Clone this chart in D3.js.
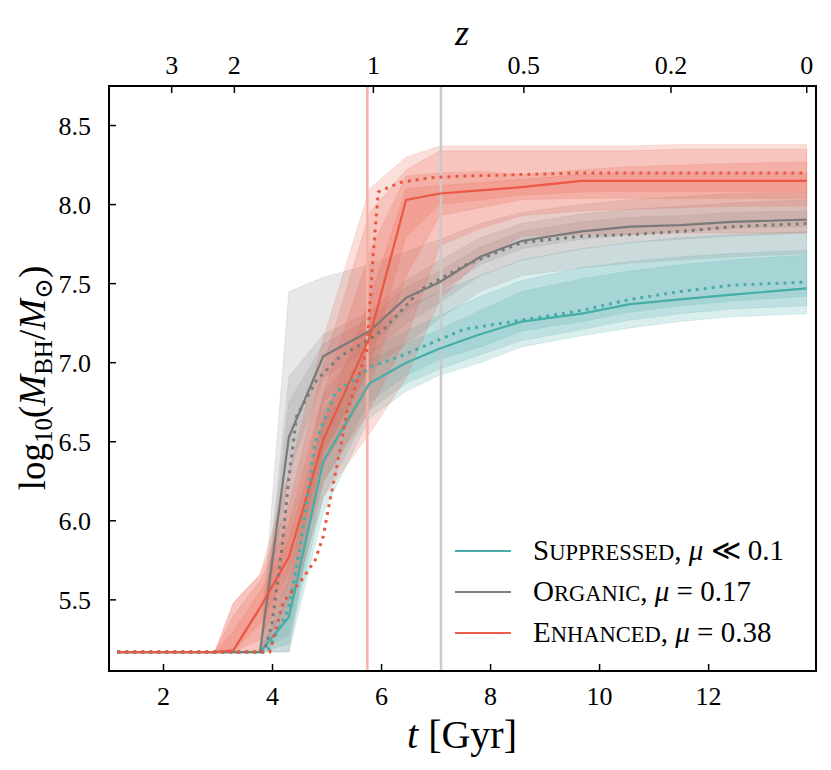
<!DOCTYPE html>
<html><head><meta charset="utf-8">
<script src="https://cdn.jsdelivr.net/npm/d3@7"></script>
<style>body{margin:0;background:#fff}</style>
</head><body><svg id="c" width="831" height="770"></svg>
<script>
// ---- data ----
const tGrid = [1.15, 2.0, 2.94, 3.28, 3.77, 4.3, 4.93, 5.78, 6.45, 7.07, 7.81, 8.57, 9.67, 10.56, 11.48, 12.43, 13.8];

const suppMed   = [5.17,5.17,5.17,5.17,5.17,5.39,6.375,6.87,7.0,7.09,7.18,7.26,7.31,7.37,7.40,7.43,7.47];
const suppInLo  = [5.17,5.17,5.17,5.17,5.17,5.28,6.24,6.75,6.92,7.02,7.10,7.20,7.26,7.32,7.36,7.39,7.42];
const suppInHi  = [5.17,5.17,5.17,5.17,5.17,5.52,6.62,7.02,7.12,7.21,7.33,7.45,7.53,7.58,7.62,7.65,7.68];
const suppMidLo = [5.17,5.17,5.17,5.17,5.17,5.22,6.15,6.70,6.87,6.96,7.05,7.14,7.21,7.27,7.31,7.34,7.36];
const suppMidHi = [5.17,5.17,5.17,5.17,5.17,5.62,6.70,7.08,7.20,7.30,7.42,7.52,7.60,7.64,7.67,7.69,7.71];
const suppOutLo = [5.17,5.17,5.17,5.17,5.17,5.17,6.05,6.65,6.82,6.92,7.00,7.10,7.17,7.22,7.26,7.29,7.31];
const suppOutHi = [5.17,5.17,5.17,5.17,5.17,5.75,6.80,7.20,7.35,7.45,7.55,7.65,7.72,7.76,7.79,7.81,7.83];

const orgMed   = [5.17,5.17,5.17,5.17,5.17,6.53,7.04,7.20,7.41,7.51,7.67,7.77,7.83,7.86,7.87,7.89,7.905];
const orgInLo  = [5.17,5.17,5.17,5.17,5.17,6.30,6.90,7.10,7.33,7.45,7.62,7.72,7.78,7.81,7.83,7.85,7.86];
const orgInHi  = [5.17,5.17,5.17,5.17,5.17,6.75,7.12,7.28,7.48,7.58,7.73,7.83,7.89,7.92,7.93,7.95,7.96];
const orgMidLo = [5.17,5.17,5.17,5.17,5.17,5.82,6.75,7.05,7.25,7.38,7.55,7.65,7.72,7.76,7.78,7.80,7.82];
const orgMidHi = [5.17,5.17,5.17,5.17,5.17,6.91,7.18,7.32,7.52,7.65,7.79,7.88,7.94,7.97,7.99,8.01,8.03];
const orgOutLo = [5.17,5.17,5.17,5.17,5.17,5.17,6.45,6.95,7.12,7.28,7.45,7.55,7.60,7.63,7.65,7.67,7.69];
const orgOutHi = [5.17,5.17,5.17,5.17,5.17,7.45,7.54,7.62,7.70,7.78,7.88,7.95,8.00,8.03,8.05,8.07,8.08];

const enhMed   = [5.17,5.17,5.17,5.18,5.45,5.77,6.51,7.16,8.03,8.07,8.09,8.11,8.15,8.15,8.15,8.15,8.15];
const enhInLo  = [5.17,5.17,5.17,5.17,5.35,5.68,6.42,6.98,7.80,8.00,8.03,8.06,8.08,8.085,8.085,8.085,8.085];
const enhInHi  = [5.17,5.17,5.17,5.30,5.55,5.88,6.62,7.40,8.10,8.12,8.14,8.16,8.19,8.20,8.20,8.20,8.20];
const enhMidLo = [5.17,5.17,5.17,5.17,5.25,5.60,6.35,6.85,7.55,7.93,7.98,8.03,8.04,8.04,8.04,8.04,8.04];
const enhMidHi = [5.17,5.17,5.17,5.40,5.62,5.98,6.80,7.70,8.18,8.20,8.21,8.19,8.22,8.24,8.25,8.26,8.27];
const enhOutLo = [5.17,5.17,5.17,5.17,5.17,5.50,6.25,6.70,7.15,7.74,7.85,7.93,7.96,7.97,7.98,7.99,7.99];
const enhOutHi = [5.17,5.17,5.17,5.48,5.66,6.10,6.98,7.95,8.22,8.34,8.34,8.34,8.34,8.34,8.35,8.35,8.35];
const enhFarLo = [5.17,5.17,5.17,5.17,5.17,5.40,6.15,6.55,6.90,7.40,7.65,7.80,7.81,7.81,7.82,7.82,7.82];
const enhFarHi = [5.17,5.17,5.17,5.48,5.66,6.30,7.15,8.10,8.30,8.37,8.37,8.37,8.37,8.37,8.38,8.38,8.38];

const suppDotT = [1.15, 3.9, 4.29, 4.5, 4.78, 5.15, 5.84, 6.34, 7.5, 8.57, 9.67, 10.56, 11.48, 12.43, 13.8];
const suppDotV = [5.17, 5.17, 5.44, 5.82, 6.49, 6.81, 6.98, 7.04, 7.21, 7.27, 7.33, 7.40, 7.45, 7.49, 7.51];
const orgDotT  = [1.15, 3.85, 3.99, 4.17, 4.29, 4.44, 4.81, 5.24, 5.79, 6.1, 6.71, 7.07, 7.56, 8.57, 9.67, 10.56, 11.48, 12.43, 13.8];
const orgDotV  = [5.17, 5.17, 5.35, 5.82, 6.24, 6.66, 6.89, 7.04, 7.15, 7.23, 7.46, 7.53, 7.62, 7.76, 7.80, 7.81, 7.83, 7.86, 7.88];
const enhDotT  = [1.15, 3.95, 4.2, 4.5, 4.78, 4.93, 5.02, 5.24, 5.36, 5.73, 5.85, 5.94, 6.34, 6.89, 7.5, 8.57, 9.67, 10.56, 11.48, 12.43, 13.8];
const enhDotV  = [5.17, 5.17, 5.49, 5.61, 5.75, 5.9, 6.07, 6.45, 6.68, 7.08, 7.7, 8.08, 8.14, 8.17, 8.18, 8.19, 8.20, 8.20, 8.20, 8.20, 8.20];

const xTicks = [2, 4, 6, 8, 10, 12];
const yTicks = [5.5, 6.0, 6.5, 7.0, 7.5, 8.0, 8.5];
const zLabels = ["3", "2", "1", "0.5", "0.2", "0"];
const zTimes  = [2.15, 3.30, 5.85, 8.61, 11.31, 13.80];
const vLines = [{t: 5.74, c: "#f5b1a6"}, {t: 7.09, c: "#c9c9c9"}];

const models = [
  {name: ["S", "UPPRESSED"], mu: " \u226A 0.1", col: "#48aca8", line: "#45aea8", fill: "#4aaca8",
   med: suppMed, bands: [[suppOutLo, suppOutHi], [suppMidLo, suppMidHi], [suppInLo, suppInHi]], dt: suppDotT, dv: suppDotV},
  {name: ["O", "RGANIC"], mu: " = 0.17", col: "#7f7f7f", line: "#7a7a7a", fill: "#8a8a8a",
   med: orgMed, bands: [[orgOutLo, orgOutHi], [orgMidLo, orgMidHi], [orgInLo, orgInHi]], dt: orgDotT, dv: orgDotV},
  {name: ["E", "NHANCED"], mu: " = 0.38", col: "#ee5f4b", line: "#ea5843", fill: "#ec5f4a",
   med: enhMed, bands: [[enhFarLo, enhFarHi], [enhOutLo, enhOutHi], [enhMidLo, enhMidHi], [enhInLo, enhInHi]], dt: enhDotT, dv: enhDotV}
];

// ---- layout ----
const L = 109, R = 816, Tp = 86, B = 671;
const x = d3.scaleLinear().domain([1.0, 13.97]).range([L, R]);
const y = d3.scaleLinear().domain([5.05, 8.75]).range([B, Tp]);
const svg = d3.select("#c");
const FONT = "'Liberation Serif', 'DejaVu Serif', serif";

svg.append("defs").append("clipPath").attr("id", "clip")
  .append("rect").attr("x", L).attr("y", Tp).attr("width", R - L).attr("height", B - Tp);
const g = svg.append("g").attr("clip-path", "url(#clip)");

const area = d3.area().x(d => x(d[0])).y0(d => y(d[1])).y1(d => y(d[2]));
const line = d3.line().x(d => x(d[0])).y(d => y(d[1]));

models.forEach(m => {
  m.bands.forEach(([lo, hi]) => {
    g.append("path").datum(tGrid.map((t, i) => [t, lo[i], hi[i]]))
      .attr("d", area).attr("fill", m.fill).attr("fill-opacity", 0.2)
      .attr("stroke", m.fill).attr("stroke-opacity", 0.15).attr("stroke-width", 1);
  });
});

vLines.forEach(v => {
  g.append("line").attr("x1", x(v.t)).attr("x2", x(v.t)).attr("y1", Tp).attr("y2", B)
    .attr("stroke", v.c).attr("stroke-width", 2.5);
});

models.forEach(m => {
  g.append("path").datum(tGrid.map((t, i) => [t, m.med[i]]))
    .attr("d", line).attr("fill", "none").attr("stroke", m.line).attr("stroke-width", 2.2);
});
models.forEach(m => {
  g.append("path").datum(m.dt.map((t, i) => [t, m.dv[i]]))
    .attr("d", line).attr("fill", "none").attr("stroke", m.line).attr("stroke-width", 3)
    .attr("stroke-dasharray", "3,5");
});

// ---- axes ----
const tickLen = 7;
const ax = svg.append("g");
xTicks.forEach(t => {
  ax.append("line").attr("x1", x(t)).attr("x2", x(t)).attr("y1", B).attr("y2", B - tickLen).attr("stroke", "#000").attr("stroke-width", 1.5);
  ax.append("text").attr("x", x(t)).attr("y", B + 34).attr("text-anchor", "middle")
    .attr("font-family", FONT).attr("font-size", 26).text(t);
});
yTicks.forEach(v => {
  ax.append("line").attr("x1", L).attr("x2", L + tickLen).attr("y1", y(v)).attr("y2", y(v)).attr("stroke", "#000").attr("stroke-width", 1.5);
  ax.append("text").attr("x", L - 18).attr("y", y(v) + 9).attr("text-anchor", "end")
    .attr("font-family", FONT).attr("font-size", 26).text(v.toFixed(1));
});
zTimes.forEach((t, i) => {
  ax.append("line").attr("x1", x(t)).attr("x2", x(t)).attr("y1", Tp).attr("y2", Tp + tickLen).attr("stroke", "#000").attr("stroke-width", 1.5);
  ax.append("text").attr("x", x(t)).attr("y", Tp - 12).attr("text-anchor", "middle")
    .attr("font-family", FONT).attr("font-size", 26).text(zLabels[i]);
});
ax.append("rect").attr("x", L).attr("y", Tp).attr("width", R - L).attr("height", B - Tp)
  .attr("fill", "none").attr("stroke", "#000").attr("stroke-width", 2);

// axis titles
svg.append("text").attr("x", 462).attr("y", 45).attr("text-anchor", "middle")
  .attr("font-family", FONT).attr("font-style", "italic").attr("font-size", 36).text("z");

const xt = svg.append("text").attr("x", 462).attr("y", 748).attr("text-anchor", "middle")
  .attr("font-family", FONT).attr("font-size", 40);
xt.append("tspan").attr("font-style", "italic").text("t");
xt.append("tspan").text(" [Gyr]");

const yt = svg.append("text").attr("transform", "translate(45,378) rotate(-90)").attr("text-anchor", "middle")
  .attr("font-family", FONT).attr("font-size", 37);
yt.append("tspan").text("log");
yt.append("tspan").attr("font-size", 25).attr("dy", 7).text("10");
yt.append("tspan").attr("dy", -7).text("(");
yt.append("tspan").attr("font-style", "italic").text("M");
yt.append("tspan").attr("font-size", 25).attr("dy", 7).text("BH");
yt.append("tspan").attr("dy", -7).text("/");
yt.append("tspan").attr("font-style", "italic").text("M");
yt.append("tspan").attr("font-size", 25).attr("dy", 7).text("\u2299");
yt.append("tspan").attr("dy", -7).text(")");

// legend
const legY = [551, 592, 633];
models.forEach((m, i) => {
  svg.append("line").attr("x1", 455).attr("x2", 511).attr("y1", legY[i]).attr("y2", legY[i])
    .attr("stroke", m.col).attr("stroke-width", 2.2);
  const tx = svg.append("text").attr("x", 533).attr("y", legY[i] + 9)
    .attr("font-family", FONT).attr("font-size", 29);
  tx.append("tspan").text(m.name[0]);
  tx.append("tspan").attr("font-size", 22.5).text(m.name[1]);
  tx.append("tspan").text(", ");
  tx.append("tspan").attr("font-style", "italic").text("\u03BC");
  tx.append("tspan").text(m.mu);
});
</script>
</body></html>
